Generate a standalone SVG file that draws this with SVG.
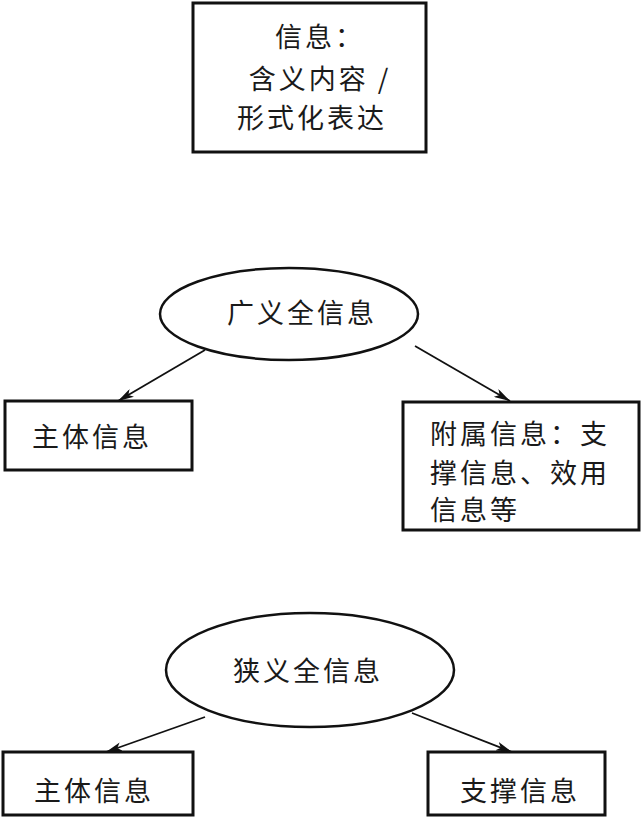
<svg xmlns="http://www.w3.org/2000/svg" width="642" height="820" viewBox="0 0 642 820">
<defs>
<marker id="ah" viewBox="0 0 16 9" refX="16" refY="4.5" markerWidth="16" markerHeight="9" markerUnits="userSpaceOnUse" orient="auto">
<path d="M0,0 L16,4.5 L0,9 L4,4.5 Z" fill="#111"/>
</marker>
<style>
.box{fill:#fff;stroke:#111;stroke-width:3}
.ell{fill:#fff;stroke:#111;stroke-width:2.5}
.t{font-family:"Noto Sans CJK SC","Noto Sans",sans-serif;font-size:27px;fill:#1a1a1a;letter-spacing:3px}
.c{text-anchor:middle}
.e{stroke:#111;stroke-width:1.8;fill:none;marker-end:url(#ah)}
</style>
</defs>
<rect width="642" height="820" fill="#fff"/>
<g id="info">
<rect class="box" x="193" y="3" width="233" height="149"/>
<text class="t c" x="320" y="47">信息：</text>
<text class="t c" x="320" y="89">含义内容 /</text>
<text class="t c" x="312" y="128">形式化表达</text>
</g>
<g id="broad">
<ellipse class="ell" cx="289" cy="314" rx="129" ry="46"/>
<text class="t c" x="302" y="323">广义全信息</text>
</g>
<g id="main1">
<rect class="box" x="5" y="401" width="187" height="69"/>
<text class="t" x="32" y="447">主体信息</text>
</g>
<g id="attach">
<rect class="box" x="403" y="402" width="236" height="128"/>
<text class="t" x="430" y="444">附属信息：支</text>
<text class="t" x="430" y="483">撑信息、效用</text>
<text class="t" x="430" y="520">信息等</text>
</g>
<g id="narrow">
<ellipse class="ell" cx="310" cy="670" rx="144" ry="57"/>
<text class="t c" x="308" y="681">狭义全信息</text>
</g>
<g id="main2">
<rect class="box" x="3" y="752" width="190" height="63"/>
<text class="t" x="34" y="801">主体信息</text>
</g>
<g id="support">
<rect class="box" x="428" y="752" width="177" height="63"/>
<text class="t" x="460" y="801">支撑信息</text>
</g>
<g id="connectors">
<line class="e" x1="205" y1="350" x2="118" y2="401"/>
<line class="e" x1="415" y1="346" x2="510" y2="401"/>
<line class="e" x1="205" y1="717" x2="106" y2="752"/>
<line class="e" x1="412" y1="713" x2="512" y2="752"/>
</g>
</svg>
